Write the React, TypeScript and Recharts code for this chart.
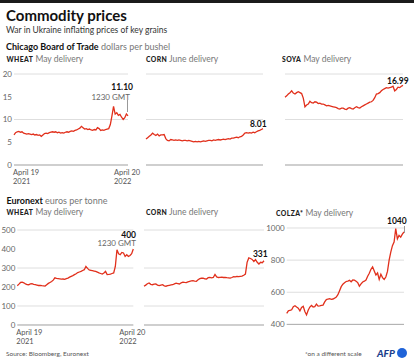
import React from 'react'
import { LineChart, Line, XAxis, YAxis, CartesianGrid, ReferenceLine } from 'recharts'

// values, ~72 samples from April 19 2021 to April 20 2022
const cbotWheat = [
  6.6, 7.1, 7.3, 7.4, 7.2, 7.3, 7.0, 6.9, 6.8, 6.9, 6.8, 6.7, 6.8, 6.6, 6.7, 6.5, 6.6, 6.3,
  6.6, 6.9, 7.0, 6.9, 7.1, 7.2, 7.3, 7.2, 7.3, 7.1, 7.2, 7.0, 7.1, 7.0, 7.2, 7.3, 7.2, 7.4,
  7.5, 7.4, 7.6, 7.7, 7.9, 8.1, 8.5, 8.2, 7.9, 8.0, 7.8, 7.9, 7.7, 7.6, 7.8, 7.7, 8.2, 8.0,
  7.6, 7.7, 7.6, 7.8, 7.9, 8.0, 8.9, 10.8, 12.9, 11.2, 11.5, 10.9, 11.1, 10.5, 10.0, 10.4, 11.2, 10.8,
]
const cbotCorn = [
  5.7, 6.0, 6.3, 6.6, 7.0, 6.7, 6.5, 6.8, 6.4, 6.6, 6.6, 6.7, 5.8, 5.4, 5.3, 5.6, 5.5, 5.4,
  5.5, 5.4, 5.5, 5.4, 5.3, 5.4, 5.4, 5.3, 5.4, 5.3, 5.2, 5.1, 5.2, 5.1, 5.2, 5.1, 5.2, 5.3,
  5.2, 5.3, 5.4, 5.4, 5.3, 5.5, 5.4, 5.5, 5.6, 5.5, 5.6, 5.7, 5.6, 5.7, 5.8, 5.7, 5.9, 5.9,
  6.0, 6.1, 6.0, 6.2, 6.3, 6.6, 7.0, 7.1, 7.0, 7.1, 7.0, 7.2, 7.1, 7.3, 7.5, 7.6, 7.8, 8.0,
]
const cbotSoya = [
  14.9, 15.2, 15.6, 15.9, 16.3, 15.8, 15.6, 15.9, 16.1, 15.9, 15.7, 14.7, 12.8, 13.2, 13.4, 14.0, 13.7, 13.6,
  13.9, 13.8, 13.5, 13.6, 13.4, 13.4, 13.2, 13.0, 13.1, 13.0, 12.9, 12.8, 12.7, 12.6, 12.4, 12.3, 12.5, 12.5,
  12.3, 12.2, 12.5, 12.6, 12.4, 12.3, 12.6, 12.8, 12.6, 12.5, 12.8, 13.0, 13.2, 13.4, 13.6, 13.8, 13.9, 14.2,
  14.8, 15.6, 15.7, 15.9, 16.3, 16.6, 16.8, 17.0, 16.9, 17.0, 17.1, 17.3, 16.3, 16.6, 17.1, 17.0, 17.3, 17.5,
]
const euroWheat = [
  207, 215, 224, 226, 222, 216, 213, 212, 216, 218, 214, 212, 210, 208, 209, 207, 206, 205,
  212, 219, 224, 229, 236, 248, 245, 244, 243, 241, 242, 240, 244, 247, 252, 256, 260, 265,
  270, 276, 279, 282, 287, 291, 308, 298, 290, 288, 286, 284, 282, 278, 274, 271, 268, 274,
  282, 265, 266, 268, 271, 274, 308, 396, 375, 370, 382, 379, 361, 370, 361, 366, 375, 400,
]
const euroCorn = [
  204, 210, 217, 221, 214, 212, 215, 216, 210, 207, 210, 212, 206, 204, 207, 209, 211, 212,
  216, 220, 218, 216, 222, 226, 224, 223, 227, 230, 232, 233, 231, 230, 238, 244, 246, 247,
  243, 242, 249, 251, 248, 250, 266, 253, 250, 251, 252, 250, 251, 249, 248, 247, 250, 254,
  253, 256, 255, 256, 257, 262, 268, 330, 353, 350, 345, 334, 344, 330, 321, 330, 328, 338,
]
const euroColza = [
  469, 484, 488, 491, 510, 516, 508, 501, 484, 505, 512, 480, 459, 488, 508, 518, 508, 510,
  526, 514, 515, 518, 520, 540, 554, 558, 560, 556, 558, 563, 570, 585, 610, 635, 650, 659,
  667, 670, 674, 665, 676, 675, 669, 660, 638, 652, 664, 669, 676, 700, 718, 743, 758, 733,
  708, 720, 680, 712, 691, 680, 695, 730, 800, 850, 890, 912, 996, 933, 954, 943, 962, 975,
]

const dateLabels = [['April 19', '2021'], ['April 20', '2022']]
const cbotTicks = [0, 5, 10, 15, 20]
const euroTicks = [0, 100, 200, 300, 400, 500]
const colzaTicks = [400, 600, 800, 1000]

const FONT = 'Lato, "Noto Sans", sans-serif'
const RED = '#e1301c'
const LAST = cbotWheat.length - 1

function DateTick({ x, y, payload }: any) {
  const [a, b] = payload.value === 0 ? dateLabels[0] : dateLabels[1]
  const tx = payload.value === 0 ? x - 1 : x - 14
  return (
    <g fill="#555" fontSize={7.5} fontFamily={FONT}>
      <text x={tx} y={y + 9.8} textAnchor="start">{a}</text>
      <text x={tx} y={y + 18.8} textAnchor="start">{b}</text>
    </g>
  )
}

interface PanelProps {
  values: number[]
  left: number
  right: number
  top: number
  bottom: number
  domain: [number, number]
  ticks: number[]
  yWidth?: number
  showX?: boolean
}

function Panel({ values, left, right, top, bottom, domain, ticks, yWidth = 0, showX = false }: PanelProps) {
  const pad = 8
  const padR = showX ? 18 : pad
  const xh = showX ? 24 : 0
  const data = values.map((v, i) => ({ i, v }))
  const width = yWidth + pad + (right - left) + padR
  const height = pad + (bottom - top) + xh + pad
  return (
    <div style={{ position: 'absolute', left: left - yWidth - pad, top: top - pad }}>
      <LineChart width={width} height={height} data={data} margin={{ top: pad, right: padR, bottom: pad, left: pad }}>
        <CartesianGrid vertical={false} stroke="#d6d6d6" strokeWidth={0.8} />
        <XAxis
          dataKey="i"
          type="number"
          domain={[0, LAST]}
          ticks={[0, LAST]}
          hide={!showX}
          height={xh}
          axisLine={false}
          tickLine={false}
          tickSize={0}
          tickMargin={0}
          tick={<DateTick />}
        />
        <YAxis
          domain={domain}
          ticks={ticks}
          hide={yWidth === 0}
          width={yWidth}
          axisLine={false}
          tickLine={false}
          tickSize={0}
          tickMargin={2}
          tick={{ fill: '#666', fontSize: 8, fontFamily: FONT }}
        />
        <ReferenceLine y={domain[0]} stroke="#a8a8a8" strokeWidth={0.9} />
        <Line dataKey="v" stroke={RED} strokeWidth={1.3} dot={false} isAnimationActive={false} />
      </LineChart>
    </div>
  )
}

function Txt({ x, y, size, children, color = '#111', bold = false, right = false, style = {} }: any) {
  return (
    <div
      style={{
        position: 'absolute',
        top: y - size / 2,
        ...(right ? { right: 414 - x, textAlign: 'right' } : { left: x }),
        fontSize: size,
        lineHeight: `${size}px`,
        fontWeight: bold ? 700 : 400,
        color,
        whiteSpace: 'nowrap',
        ...style,
      }}
    >
      {children}
    </div>
  )
}

function Head({ x, y, name, rest }: { x: number; y: number; name: string; rest: string }) {
  return (
    <Txt x={x} y={y} size={8.5} color="#777">
      <span style={{ fontWeight: 900, color: '#222', fontSize: 6.8, letterSpacing: 0.4 }}>{name}</span> {rest}
    </Txt>
  )
}

export default function App() {
  return (
    <div style={{ position: 'absolute', left: 0, top: 0, width: 414, height: 363, background: '#fff', overflow: 'hidden', fontFamily: FONT }}>
      <div style={{ position: 'absolute', left: 0, top: 0, width: 414, height: 3, background: '#1b1b1b' }} />
      <Txt x={6} y={15.5} size={15} bold>Commodity prices</Txt>
      <Txt x={6} y={30} size={8.5} color="#333">War in Ukraine inflating prices of key grains</Txt>
      <Txt x={6} y={46} size={9} bold>
        Chicago Board of Trade <span style={{ fontWeight: 400, color: '#777' }}>dollars per bushel</span>
      </Txt>

      <Head x={6.5} y={59.7} name="WHEAT" rest="May delivery" />
      <Head x={146} y={59.7} name="CORN" rest="June delivery" />
      <Head x={282} y={59.7} name="SOYA" rest="May delivery" />

      <Panel values={cbotWheat} left={14} right={128} top={74} bottom={165} domain={[0, 20]} ticks={cbotTicks} yWidth={14} showX />
      <Panel values={cbotCorn} left={146} right={263} top={74} bottom={165} domain={[0, 20]} ticks={cbotTicks} />
      <Panel values={cbotSoya} left={285} right={403} top={74} bottom={165} domain={[0, 20]} ticks={cbotTicks} />

      <Txt x={133} y={87.3} size={8.5} bold right>11.10</Txt>
      <Txt x={130} y={96.7} size={8} color="#666" right>1230 GMT</Txt>
      <div style={{ position: 'absolute', left: 127.3, top: 100, width: 0.8, height: 12, background: '#999' }} />
      <Txt x={266.7} y={124.3} size={8.5} bold right>8.01</Txt>
      <Txt x={408.7} y={81} size={8.5} bold right>16.99</Txt>

      <Txt x={6.5} y={200} size={9} bold>
        Euronext <span style={{ fontWeight: 400, color: '#777' }}>euros per tonne</span>
      </Txt>
      <Head x={6.5} y={212.3} name="WHEAT" rest="May delivery" />
      <Head x={146} y={212.3} name="CORN" rest="June delivery" />
      <Head x={276} y={213.3} name="COLZA*" rest="May delivery" />

      <Panel values={euroWheat} left={17.3} right={133.3} top={230} bottom={325} domain={[0, 500]} ticks={euroTicks} yWidth={17.3} showX />
      <Panel values={euroCorn} left={144} right={264} top={230} bottom={325} domain={[0, 500]} ticks={euroTicks} />
      <Panel values={euroColza} left={286.7} right={404} top={228.3} bottom={324.7} domain={[400, 1000]} ticks={colzaTicks} yWidth={16.7} />

      <Txt x={136} y={235} size={8.5} bold right>400</Txt>
      <Txt x={136} y={243.3} size={8} color="#666" right>1230 GMT</Txt>
      <Txt x={267.7} y={254} size={8.5} bold right>331</Txt>
      <Txt x={406.7} y={221.7} size={8.5} bold right>1040</Txt>
      <div style={{ position: 'absolute', left: 403.6, top: 225.5, width: 0.8, height: 7, background: '#999' }} />

      <Txt x={6} y={354} size={6.5} color="#555">Source: Bloomberg, Euronext</Txt>
      <Txt x={305} y={354} size={6.5} color="#555">*on a different scale</Txt>
      <Txt x={377} y={353} size={10} color="#1c3f8c" bold style={{ fontStyle: 'italic', fontWeight: 900 }}>AFP</Txt>
      <div style={{ position: 'absolute', left: 397, top: 348, width: 10, height: 10, borderRadius: 5, background: '#1f63d8' }} />
    </div>
  )
}
